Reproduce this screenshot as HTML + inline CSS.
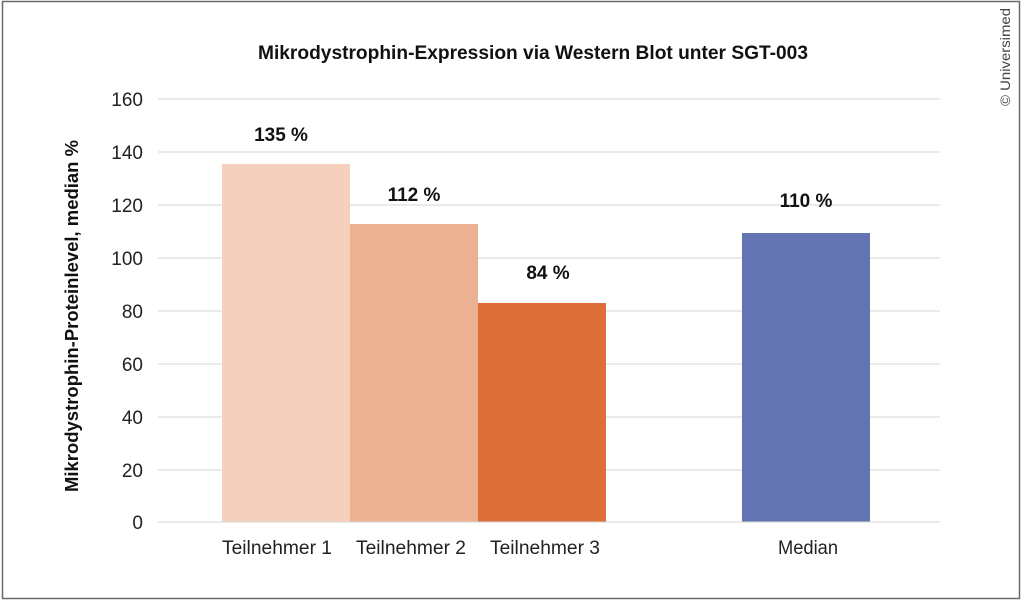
<!DOCTYPE html>
<html><head><meta charset="utf-8"><style>
html,body{margin:0;padding:0;background:#fff;}
svg{display:block;font-family:"Liberation Sans",Arial,sans-serif;}
</style></head><body>
<svg width="1024" height="602" viewBox="0 0 1024 602">
<rect x="2.5" y="1.5" width="1017" height="597" fill="#fff" stroke="#6a6a6a" stroke-width="1.5"/>
<text x="533" y="59" text-anchor="middle" font-size="19" font-weight="bold" fill="#111" textLength="550" lengthAdjust="spacingAndGlyphs">Mikrodystrophin-Expression via Western Blot unter SGT-003</text>
<g stroke="#d6d6d6" stroke-width="1">
<line x1="158" y1="99" x2="940" y2="99"/>
<line x1="158" y1="152" x2="940" y2="152"/>
<line x1="158" y1="205" x2="940" y2="205"/>
<line x1="158" y1="258" x2="940" y2="258"/>
<line x1="158" y1="311" x2="940" y2="311"/>
<line x1="158" y1="364" x2="940" y2="364"/>
<line x1="158" y1="417" x2="940" y2="417"/>
<line x1="158" y1="470" x2="940" y2="470"/>
<line x1="158" y1="522" x2="940" y2="522"/>
</g>
<g font-size="19" fill="#222" text-anchor="end">
<text x="143" y="106">160</text>
<text x="143" y="159">140</text>
<text x="143" y="212">120</text>
<text x="143" y="265">100</text>
<text x="143" y="318">80</text>
<text x="143" y="371">60</text>
<text x="143" y="424">40</text>
<text x="143" y="477">20</text>
<text x="143" y="529">0</text>
</g>
<text transform="translate(78,316) rotate(-90)" text-anchor="middle" font-size="18" font-weight="bold" fill="#111" textLength="352" lengthAdjust="spacingAndGlyphs">Mikrodystrophin-Proteinlevel, median %</text>
<rect x="222" y="164" width="128" height="358" fill="#f5d0bc"/>
<rect x="350" y="224" width="128" height="298" fill="#ecb193"/>
<rect x="478" y="303" width="128" height="219" fill="#dc6e3a"/>
<rect x="742" y="233" width="128" height="289" fill="#6275b2"/>
<line x1="158" y1="522" x2="940" y2="522" stroke="#d6d6d6"/>
<g font-size="19" font-weight="bold" fill="#111" text-anchor="middle">
<text x="281" y="141">135 %</text>
<text x="414" y="201">112 %</text>
<text x="548" y="279">84 %</text>
<text x="806" y="207">110 %</text>
</g>
<g font-size="19" fill="#222" text-anchor="middle">
<text x="277" y="554" textLength="110" lengthAdjust="spacingAndGlyphs">Teilnehmer 1</text>
<text x="411" y="554" textLength="110" lengthAdjust="spacingAndGlyphs">Teilnehmer 2</text>
<text x="545" y="554" textLength="110" lengthAdjust="spacingAndGlyphs">Teilnehmer 3</text>
<text x="808" y="554" textLength="60" lengthAdjust="spacingAndGlyphs">Median</text>
</g>
<text transform="translate(1010,57) rotate(-90)" text-anchor="middle" font-size="14" fill="#444" textLength="98" lengthAdjust="spacingAndGlyphs">© Universimed</text>
</svg>
</body></html>
